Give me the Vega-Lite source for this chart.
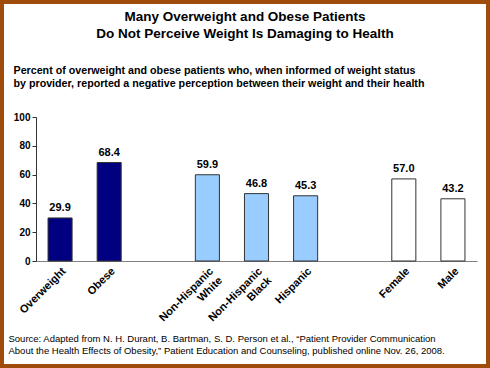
{
  "$schema": "https://vega.github.io/schema/vega-lite/v6.json",
  "autosize": "none",
  "padding": 0,
  "width": 490,
  "height": 368,
  "background": "white",
  "config": {
    "font": "Liberation Sans",
    "view": {"stroke": "#9E4B0B", "strokeWidth": 8},
    "title": {"font": "Liberation Sans", "fontSize": 13.5, "fontWeight": "bold", "color": "#000", "lineHeight": 17}
  },
  "title": {
    "text": ["Many Overweight and Obese Patients", "Do Not Perceive Weight Is Damaging to Health"],
    "anchor": "middle",
    "offset": -40
  },
  "data": {
    "values": [
      {"cat": "Overweight", "value": 29.9, "group": "weight"},
      {"cat": "Obese", "value": 68.4, "group": "weight"},
      {"cat": "Non-Hispanic White", "value": 59.9, "group": "race"},
      {"cat": "Non-Hispanic Black", "value": 46.8, "group": "race"},
      {"cat": "Hispanic", "value": 45.3, "group": "race"},
      {"cat": "Female", "value": 57.0, "group": "sex"},
      {"cat": "Male", "value": 43.2, "group": "sex"}
    ]
  },
  "encoding": {
    "x": {
      "field": "cat",
      "type": "nominal",
      "sort": null,
      "scale": {
        "domain": ["Overweight", "Obese", "gap1", "Non-Hispanic White", "Non-Hispanic Black", "Hispanic", "gap2", "Female", "Male"],
        "range": [36, 477],
        "paddingInner": 0.51,
        "paddingOuter": 0.245
      },
      "axis": {
        "orient": "bottom",
        "offset": -107,
        "ticks": false,
        "domainColor": "#808080",
        "domainWidth": 1,
        "labelAngle": -45,
        "labelAlign": "right",
        "labelBaseline": "top",
        "labelPadding": 4,
        "labelFont": "Liberation Sans",
        "labelFontSize": 11,
        "labelFontWeight": "bold",
        "labelColor": "#000",
        "labelLineHeight": 13,
        "labelExpr": "datum.label == 'gap1' || datum.label == 'gap2' ? '' : (indexof(datum.label, 'Non-Hispanic ') == 0 ? ['Non-Hispanic', slice(datum.label, 13)] : datum.label)",
        "title": ["Source: Adapted from N. H. Durant, B. Bartman, S. D. Person et al., \u201cPatient Provider Communication", "About the Health Effects of Obesity,\u201d Patient Education and Counseling, published online Nov. 26, 2008."],
        "titleFont": "Liberation Sans",
        "titleFontSize": 9.5,
        "titleFontWeight": "normal",
        "titleColor": "#000",
        "titleAlign": "left",
        "titleBaseline": "top",
        "titleAngle": 0,
        "titleLineHeight": 12,
        "titleX": 8,
        "titleY": 72
      }
    },
    "y": {
      "field": "value",
      "type": "quantitative",
      "scale": {"domain": [0, 100], "range": [261, 117], "nice": false, "zero": true},
      "axis": {
        "orient": "left",
        "offset": -36,
        "values": [0, 20, 40, 60, 80, 100],
        "grid": false,
        "tickSize": 4,
        "tickColor": "#333",
        "domainColor": "#333",
        "labelFont": "Liberation Sans",
        "labelFontSize": 10,
        "labelFontWeight": "bold",
        "labelColor": "#000",
        "labelPadding": 2,
        "title": ["Percent of overweight and obese patients who, when informed of weight status", "by provider, reported a negative perception between their weight and their health"],
        "titleFont": "Liberation Sans",
        "titleFontSize": 10.7,
        "titleFontWeight": "bold",
        "titleColor": "#000",
        "titleAngle": 0,
        "titleAlign": "left",
        "titleBaseline": "top",
        "titleLineHeight": 13,
        "titleX": -23,
        "titleY": 65
      }
    }
  },
  "layer": [
    {
      "mark": {"type": "bar", "stroke": "#333", "strokeWidth": 1},
      "encoding": {
        "fill": {
          "field": "group",
          "type": "nominal",
          "scale": {"domain": ["weight", "race", "sex"], "range": ["#000080", "#99CCFF", "#FFFFFF"]},
          "legend": null
        }
      }
    },
    {
      "mark": {"type": "text", "baseline": "alphabetic", "dy": -7, "font": "Liberation Sans", "fontSize": 11, "fontWeight": "bold", "color": "#000"},
      "encoding": {
        "text": {"field": "value", "type": "quantitative", "format": ".1f"}
      }
    }
  ]
}
